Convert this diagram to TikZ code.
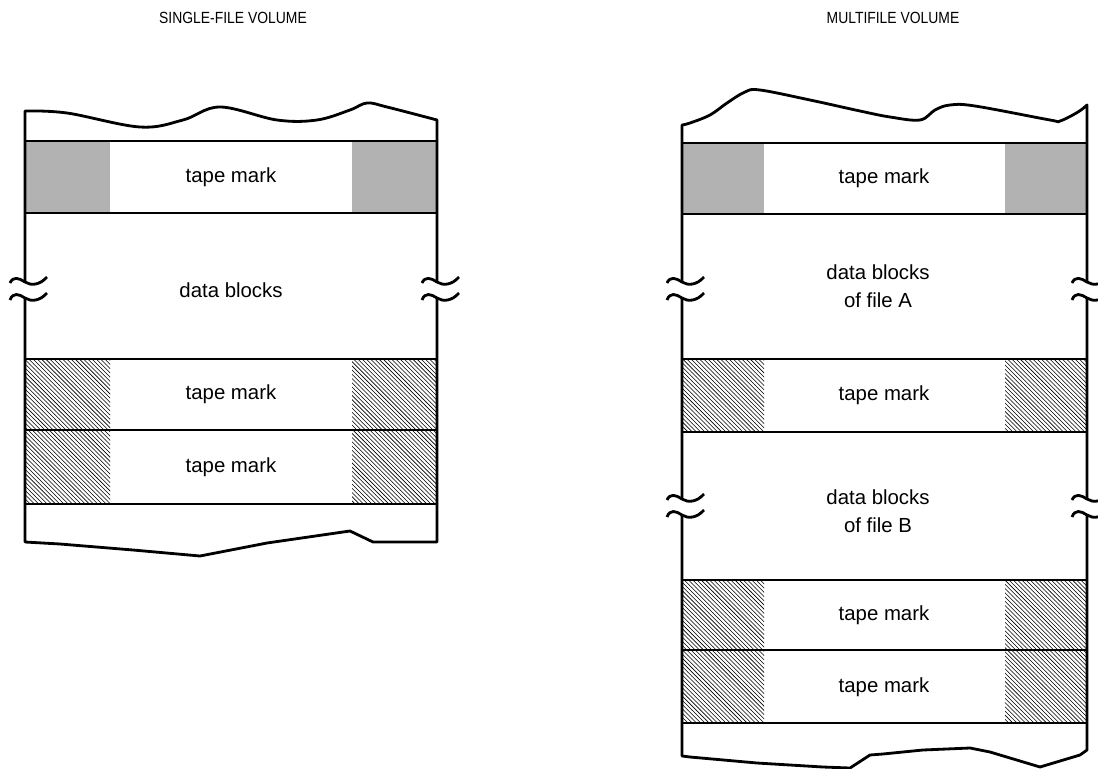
\documentclass[tikz,border=0pt]{standalone}
\usepackage{fontspec}
\setmainfont{Liberation Sans}
\newfontfamily\headfont[FakeStretch=0.86]{Liberation Sans}
\usetikzlibrary{patterns}
\tikzset{
  tape/.style={line width=2pt, line join=round},
  rowline/.style={line width=1.6pt},
  dotshade/.style={fill=black!30},
  hatchshade/.style={pattern=north west lines},
  marktext/.style={font=\fontsize{14.5}{20}\selectfont, align=center},
  voltitle/.style={font=\headfont\fontsize{11.5}{13}\selectfont},
  tapebreak/.pic={
    \fill[white] (-2.5,-7) rectangle (2.5,7);
    \draw[tape] (-15,-7) .. controls (-12,-14) and (-6,-12) .. (0,-8) .. controls (6,-4) and (15,-5) .. (22,-13);
    \draw[tape] (-15,10) .. controls (-12,2) and (-6,4) .. (0,8) .. controls (6,12) and (15,11) .. (22,3);
  }
}
\begin{document}
\begin{tikzpicture}[x=0.025cm, y=-0.025cm]
	\useasboundingbox (0,0) rectangle (1098,769);
	% single-file volume
	\node[voltitle] (singletitle) at (233,18) {SINGLE-FILE VOLUME};
	\fill[dotshade] (25,141) rectangle (110,213);
	\fill[dotshade] (352,141) rectangle (437,213);
	\foreach \top/\bot in {359/430, 430/504} {
		\fill[hatchshade] (25,\top) rectangle (110,\bot);
		\fill[hatchshade] (352,\top) rectangle (437,\bot);
	}
	\foreach \y in {141,213,359,430,504}
		\draw[rowline] (25,\y) -- (437,\y);
	\draw[tape] (25,542) -- plot[smooth, tension=0.6] coordinates {(25,111) (67,113) (140,127) (183,120) (220,107) (277,120) (317,120) (350,110) (367,103) (387,107) (437,120)}
		-- (437,542) -- (373,542) -- (350,531) -- (267,543) -- (200,556) -- (133,550) -- (60,544) -- cycle;
	\node[marktext] (smark1) at (231,177) {tape mark};
	\node[marktext] (sdata) at (231,290) {data blocks};
	\node[marktext] (smark2) at (231,394) {tape mark};
	\node[marktext] (smark3) at (231,467) {tape mark};
	\pic at (25,290) {tapebreak};
	\pic at (437,290) {tapebreak};
	% multifile volume
	\node[voltitle] (multititle) at (893,18) {MULTIFILE VOLUME};
	\fill[dotshade] (682,143) rectangle (764,214);
	\fill[dotshade] (1005,143) rectangle (1087,214);
	\foreach \top/\bot in {359/432, 580/650, 650/723} {
		\fill[hatchshade] (682,\top) rectangle (764,\bot);
		\fill[hatchshade] (1005,\top) rectangle (1087,\bot);
	}
	\foreach \y in {143,214,359,432,580,650,723}
		\draw[rowline] (682,\y) -- (1087,\y);
	\draw[tape] (682,756) -- plot[smooth, tension=0.6] coordinates {(682,125) (690,123) (710,115) (727,103) (745,92) (760,90) (810,100) (860,111) (890,117) (920,120) (935,110) (950,105) (975,106) (1050,120) (1060,121) (1078,112) (1087,105)}
		-- (1087,750) -- (1080,755) -- (1040,767) -- (990,752) -- (970,748) -- (923,750) -- (883,754) -- (870,755) -- (850,768) -- (823,767) -- (757,763) -- (690,757) -- cycle;
	\node[marktext] (mmark1) at (884,178) {tape mark};
	\node[marktext] (mdataA) at (878,286) {data blocks\\of file A};
	\node[marktext] (mmark2) at (884,395) {tape mark};
	\node[marktext] (mdataB) at (878,511) {data blocks\\of file B};
	\node[marktext] (mmark3) at (884,615) {tape mark};
	\node[marktext] (mmark4) at (884,687) {tape mark};
	\pic at (682,290) {tapebreak};
	\pic at (1087,290) {tapebreak};
	\pic at (682,507) {tapebreak};
	\pic at (1087,507) {tapebreak};
\end{tikzpicture}
\end{document}
